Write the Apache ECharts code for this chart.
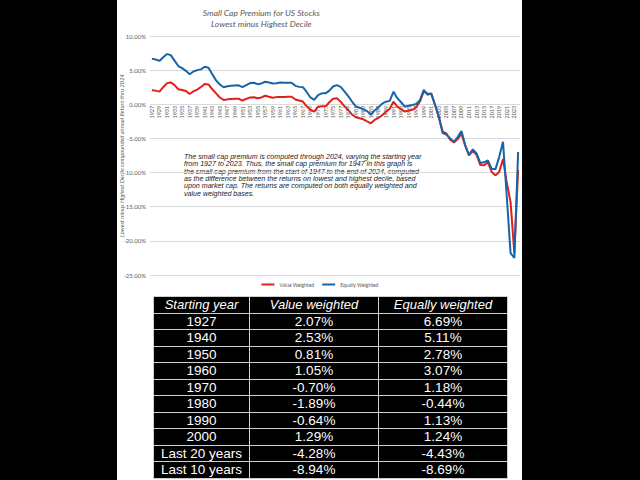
<!DOCTYPE html>
<html><head><meta charset="utf-8">
<script src="https://cdn.jsdelivr.net/npm/echarts@6/dist/echarts.min.js"></script>
<style>
html,body{margin:0;padding:0;background:#000;width:640px;height:480px;overflow:hidden;}
#paper{position:absolute;left:117px;top:0;width:405px;height:480px;background:#fff;}
#chart{position:absolute;left:0;top:0;width:640px;height:296px;}
#tbl{position:absolute;left:153px;top:296px;border-collapse:collapse;background:#000;color:#fff;font-family:"Liberation Sans",Arial,sans-serif;}
#tbl td,#tbl th{border:1px solid #cfcfcf;padding:0;height:15.5px;text-align:center;font-size:13.5px;line-height:15px;white-space:nowrap;}
#tbl th{font-style:italic;font-weight:normal;font-size:13px;}
</style></head>
<body>
<div id="paper"></div>
<div id="chart"></div>
<table id="tbl"></table>
<script>
const years = [1927,1928,1929,1930,1931,1932,1933,1934,1935,1936,
1937,1938,1939,1940,1941,1942,1943,1944,1945,1946,
1947,1948,1949,1950,1951,1952,1953,1954,1955,1956,
1957,1958,1959,1960,1961,1962,1963,1964,1965,1966,
1967,1968,1969,1970,1971,1972,1973,1974,1975,1976,
1977,1978,1979,1980,1981,1982,1983,1984,1985,1986,
1987,1988,1989,1990,1991,1992,1993,1994,1995,1996,
1997,1998,1999,2000,2001,2002,2003,2004,2005,2006,
2007,2008,2009,2010,2011,2012,2013,2014,2015,2016,
2017,2018,2019,2020,2021,2022,2023,2024];

const valueWeighted = [2.07,2.0,1.85,2.5,3.1,3.2,2.8,2.2,2.1,1.95,
1.5,1.9,2.15,2.53,2.97,2.9,2.2,1.6,1.0,0.63,
0.72,0.78,0.8,0.81,0.55,0.8,1.0,1.02,0.88,1.0,
1.25,1.1,0.97,1.05,1.05,1.05,1.1,1.1,0.7,0.55,
0.4,-0.3,-0.8,-1.08,-0.35,-0.3,-0.3,0.3,0.8,0.88,
0.38,-0.3,-0.83,-1.5,-1.9,-2.05,-2.2,-2.5,-2.78,-2.3,
-2.0,-1.6,-1.1,-0.64,0.38,-0.35,-0.7,-1.08,-0.9,-0.8,
-0.44,0.4,1.85,1.6,1.5,-0.1,-1.9,-4.0,-4.28,-5.2,
-5.6,-5.1,-4.3,-6.1,-7.5,-6.8,-7.4,-8.9,-8.94,-8.5,
-9.9,-10.4,-9.9,-8.0,-11.5,-14.3,-21.8,-9.6];

const equallyWeighted = [6.69,6.55,6.35,6.9,7.35,7.2,6.4,5.6,5.3,4.9,
4.4,4.8,5.0,5.11,5.5,5.35,4.4,3.5,2.9,2.5,
2.65,2.72,2.75,2.78,2.5,2.8,3.1,3.15,2.95,3.05,
3.3,3.2,3.05,3.07,3.2,3.15,3.15,3.15,2.7,2.55,
2.5,1.8,1.0,0.65,1.35,1.6,1.6,2.0,2.6,2.8,
2.55,1.9,1.2,0.4,-0.3,-0.5,-0.7,-1.0,-1.55,-0.9,
-0.45,0.1,0.38,0.5,1.85,0.9,0.3,-0.35,-0.2,-0.1,
0.05,0.6,2.1,1.4,1.6,-0.1,-1.8,-4.2,-4.43,-5.0,
-5.5,-4.8,-3.9,-6.0,-7.4,-6.6,-7.2,-8.6,-8.5,-8.2,
-9.45,-9.5,-7.7,-5.5,-13.5,-21.8,-22.5,-7.0];

const tableHeaders = ["Starting year","Value weighted","Equally weighted"];
const tableStart = ["1927","1940","1950","1960","1970","1980","1990","2000","Last 20 years","Last 10 years"];
const tableVW = ["2.07%","2.53%","0.81%","1.05%","-0.70%","-1.89%","-0.64%","1.29%","-4.28%","-8.94%"];
const tableEW = ["6.69%","5.11%","2.78%","3.07%","1.18%","-0.44%","1.13%","1.24%","-4.43%","-8.69%"];

const yAxisTitle = 'Lowest minus Highest Decile compounded annual Return thru 2024';
const noteLines = [
  "The small cap premium is computed through 2024, varying the starting year",
  "from 1927 to 2023. Thus, the small cap premium for 1947 in this graph is",
  "the small cap premium from the start of 1947 to the end of 2024, computed",
  "as the difference between the returns on lowest and highest decile, based",
  "upon market cap. The returns are computed on both equally weighted and",
  "value weighted bases."
];

// table
const tbl = document.getElementById('tbl');
const colW = [95,128,128];
let html = '<tr>' + tableHeaders.map((h,i)=>'<th style="width:'+colW[i]+'px">'+h+'</th>').join('') + '</tr>';
for (let i=0;i<tableStart.length;i++){
  html += '<tr><td>'+tableStart[i]+'</td><td>'+tableVW[i]+'</td><td>'+tableEW[i]+'</td></tr>';
}
tbl.innerHTML = html;

const gray = '#595959';
const chartH = 296, gridTop = 36, gridBottom = 21, yMin = -25, yMax = 10;
const plotH = chartH - gridTop - gridBottom;
const zeroOffset = plotH * (0 - yMin) / (yMax - yMin);
const labelMargin = -zeroOffset + 1.5;

const graphics = [{
  type:'text', x:121, y: gridTop + plotH/2, rotation: Math.PI/2,
  style:{text:yAxisTitle, font:'italic 5.8px Lato', fill:gray, align:'center', verticalAlign:'middle'}
}];
noteLines.forEach((t,i)=>{
  graphics.push({type:'text', x:184, y:157 + i*7.33,
    style:{text:t, font:'italic 7.1px "Liberation Sans"', fill:'#1a1a1a', verticalAlign:'middle'}});
});

const chart = echarts.init(document.getElementById('chart'), null, {renderer:'svg'});
chart.setOption({
  animation:false,
  textStyle:{fontFamily:'Lato'},
  title:{
    text:'Small Cap Premium for US Stocks\nLowest minus Highest Decile',
    left:'center', top:2,
    textStyle:{fontSize:8.5, fontStyle:'italic', fontWeight:'normal', color:gray, lineHeight:11, fontFamily:'Lato'},
    textAlign:'center'
  },
  legend:{
    bottom:4, left:'center', itemWidth:13, itemHeight:2, itemGap:8, icon:'rect',
    textStyle:{fontSize:5, color:gray, fontFamily:'Lato'},
    data:['Value Weighted','Equally Weighted']
  },
  grid:{left:150, right:120, top:gridTop, bottom:gridBottom, containLabel:false},
  xAxis:{
    type:'category', data:years, boundaryGap:true,
    axisLine:{show:false, onZero:false},
    axisTick:{show:false},
    axisLabel:{interval:1, rotate:90, fontSize:5.5, color:gray, margin:labelMargin, fontFamily:'Lato'}
  },
  yAxis:{
    type:'value', min:yMin, max:yMax, interval:5,
    axisLine:{show:false}, axisTick:{show:false},
    axisLabel:{fontSize:6, color:gray, margin:4, fontFamily:'Lato', formatter:v=>v.toFixed(2)+'%'},
    splitLine:{lineStyle:{color:'#d9d9d9', width:1}}
  },
  graphic:graphics,
  series:[
    {name:'Value Weighted', type:'line', data:valueWeighted, symbol:'none', lineStyle:{width:2, color:'#e0201b'}, itemStyle:{color:'#e0201b'}},
    {name:'Equally Weighted', type:'line', data:equallyWeighted, symbol:'none', lineStyle:{width:2, color:'#1765a8'}, itemStyle:{color:'#1765a8'}}
  ]
});
</script>
</body></html>
